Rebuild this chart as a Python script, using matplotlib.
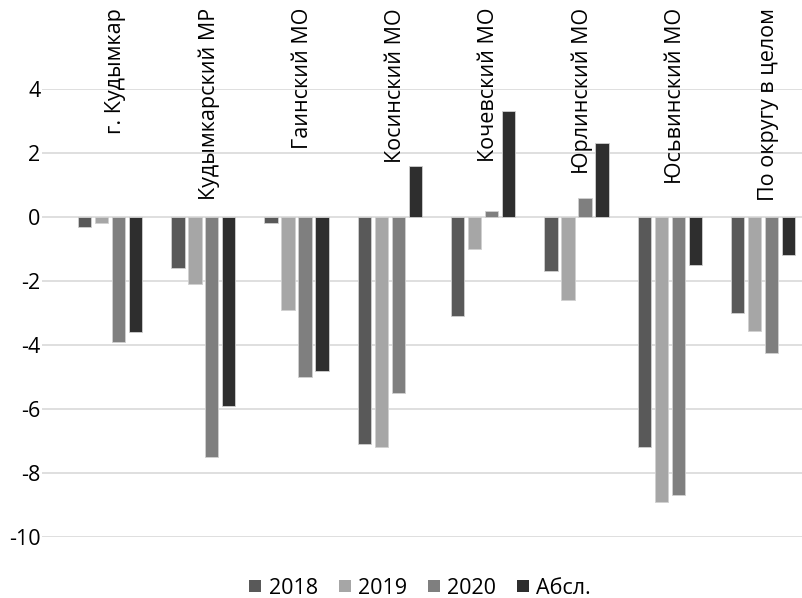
import matplotlib
matplotlib.use("Agg")
import matplotlib.pyplot as plt
from matplotlib.lines import Line2D
import numpy as np

categories = ["г. Кудымкар", "Кудымкарский МР", "Гаинский МО", "Косинский МО",
              "Кочевский МО", "Юрлинский МО", "Юсьвинский МО", "По округу в целом"]
series_names = ["2018", "2019", "2020", "Абсл."]
v2018 = [-0.3, -1.6, -0.2, -7.1, -3.1, -1.7, -7.2, -3.0]
v2019 = [-0.2, -2.1, -2.9, -7.2, -1.0, -2.6, -8.9, -3.55]
v2020 = [-3.9, -7.5, -5.0, -5.5, 0.2, 0.6, -8.7, -4.26]
vabs = [-3.6, -5.9, -4.8, 1.6, 3.3, 2.3, -1.5, -1.2]
yticks = [4, 2, 0, -2, -4, -6, -8, -10]

colors = ["#595959", "#a6a6a6", "#7f7f7f", "#2e2e2e"]

plt.rcParams['font.family'] = ['Open Sans', 'DejaVu Sans']

fig = plt.figure(figsize=(8.03, 5.98), dpi=100)
ax = fig.add_axes([42/803, 1 - 537/598, 1 - 42/803, (537 - 89)/598])

x = np.arange(len(categories))
pitch = 0.182
width = 0.143
for i, (vals, name) in enumerate(zip([v2018, v2019, v2020, vabs], series_names)):
    ax.bar(x + (i - 1.5) * pitch, vals, width, color=colors[i], label=name,
           edgecolor="#d0d0d0", linewidth=0.6, zorder=3)

ax.set_ylim(-10, 4)
ax.set_xlim(-0.729, 7.427)
ax.set_yticks(yticks)
ax.set_yticklabels([str(t) for t in yticks], fontsize=15.5)
ax.yaxis.grid(True, color="#d9d9d9", linewidth=1.2, zorder=0)
ax.set_xticks([])
ax.tick_params(axis='y', length=0, pad=1)
for s in ax.spines.values():
    s.set_visible(False)

trans = matplotlib.transforms.blended_transform_factory(ax.transData, fig.transFigure)
for xi, cat in zip(x, categories):
    ax.text(xi + 0.06, 1 - 8/598, cat, rotation=90, ha='center', va='top',
            fontsize=15.5, transform=trans, clip_on=False)

handles = [Line2D([], [], linestyle='none', marker='s', markersize=9,
                  markerfacecolor=c, markeredgecolor=c, markeredgewidth=0)
           for c in colors]
fig.legend(handles, series_names, loc='center',
           bbox_to_anchor=(420/803, 1 - 588/598), ncol=4,
           frameon=False, fontsize=15.5, handlelength=0.6,
           columnspacing=0.93, handletextpad=0.33, borderpad=0, borderaxespad=0)

fig.savefig("out.png", dpi=100)
